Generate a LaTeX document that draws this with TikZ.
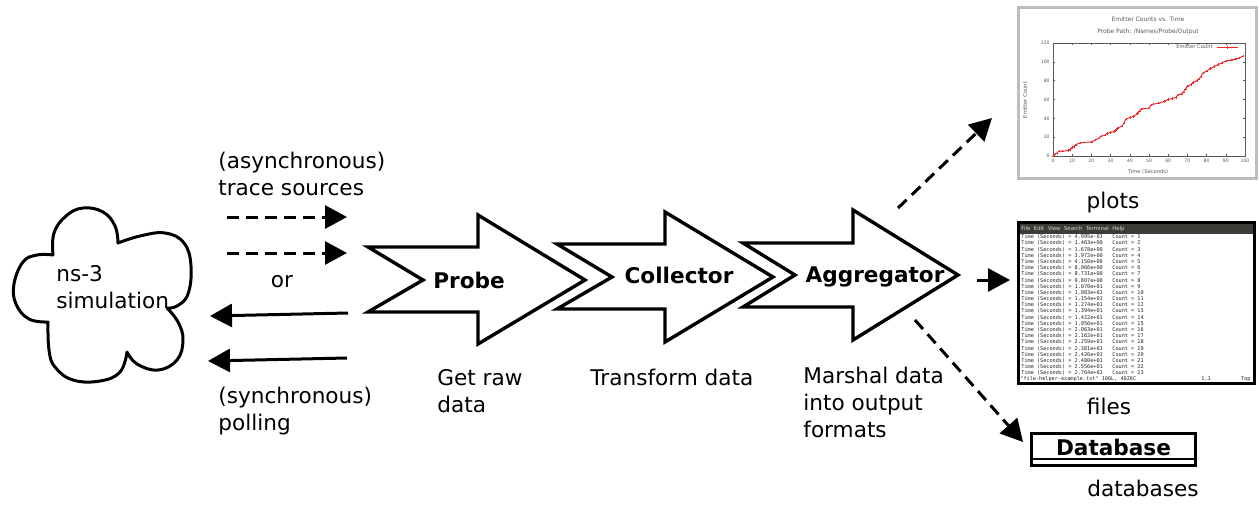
\documentclass[tikz,border=0pt]{standalone}
\usepackage{fontspec}
\setmainfont{DejaVu Sans}
\newfontfamily\termfont{DejaVu Sans Mono}
\usetikzlibrary{arrows.meta}
\definecolor{plotframe}{gray}{0.74}
\definecolor{plottext}{gray}{0.35}
\definecolor{plotred}{RGB}{240,40,40}
\definecolor{termbar}{RGB}{60,59,55}
\definecolor{termbartext}{RGB}{215,215,210}
\begin{document}
\begin{tikzpicture}[x=0.5pt,y=-0.5pt,
  blockarrow/.style={draw, line width=1.7pt, fill=white, line join=miter},
  lbl/.style={font=\fontsize{10.8}{13.5}\selectfont, inner sep=0pt, align=left},
  boldlbl/.style={font=\fontsize{10.8}{13.5}\selectfont\bfseries, inner sep=0pt},
  flow/.style={line width=1.5pt, -{Triangle[length=11pt,width=11.5pt]}},
  dflow/.style={flow, dash pattern=on 6pt off 3.5pt},
  tiny/.style={font=\fontsize{3}{3.5}\selectfont, text=plottext, inner sep=0pt},
  ticklbl/.style={font=\fontsize{2.3}{2.8}\selectfont, text=plottext, inner sep=0pt},
  term/.style={font=\termfont\fontsize{2.6}{3}\selectfont, inner sep=0pt, anchor=base west, text=black!85},
  dbbox/.style={draw, line width=1.6pt, minimum width=82pt, minimum height=16pt, inner sep=0pt,
                font=\fontsize{10.8}{13.5}\selectfont\bfseries, text depth=2.7pt}
]
\useasboundingbox (0,0) rectangle (1259,505);

% ---------- cloud ----------
\draw[line width=1.5pt, line join=round]
 plot[smooth, tension=0.7] coordinates {(53,255) (54,233) (66,216) (83,208) (103,212) (115,226) (118,243)}
 -- plot[smooth, tension=0.7] coordinates {(118,243) (140,236) (165,233) (184,243) (191,266) (188,294) (177,306) (167,308)}
 -- plot[smooth, tension=0.7] coordinates {(167,308) (178,322) (183,340) (177,360) (158,370) (137,364) (127,352)}
 -- plot[smooth, tension=0.7] coordinates {(127,352) (120,372) (100,381) (73,380) (55,367) (49,350) (48,322)}
 -- plot[smooth, tension=0.7] coordinates {(48,322) (29,319) (16,304) (14,284) (23,262) (37,255) (53,255)}
 -- cycle;
\node[lbl, anchor=base west] (sim) at (56,308) {ns-3\\simulation};

% ---------- left side arrows ----------
\node[lbl, anchor=base west] (async) at (218,195) {(asynchronous)\\trace sources};
\coordinate (a1s) at (227,217); \coordinate (a1e) at (347,217);
\coordinate (a2s) at (227,253); \coordinate (a2e) at (347,253);
\draw[dflow] (a1s) -- (a1e);
\draw[dflow] (a2s) -- (a2e);
\node[lbl, anchor=base] (or) at (282,287) {or};
\coordinate (p1s) at (348,313); \coordinate (p1e) at (210,316);
\coordinate (p2s) at (347,358); \coordinate (p2e) at (208,361);
\draw[flow] (p1s) -- (p1e);
\draw[flow] (p2s) -- (p2e);
\node[lbl, anchor=base west] (sync) at (218,430) {(synchronous)\\polling};

% ---------- block arrows ----------
\draw[blockarrow] (368,247) -- (478,247) -- (478,215) -- (585,280) -- (478,344) -- (478,312) -- (368,312) -- (423,280) -- cycle;
\draw[blockarrow] (557,244) -- (665,244) -- (665,212) -- (773,277) -- (665,342) -- (665,309) -- (557,309) -- (612,277) -- cycle;
\draw[blockarrow] (743,243) -- (853,243) -- (853,210) -- (958,275) -- (853,340) -- (853,307) -- (743,307) -- (795,275) -- cycle;
\node[boldlbl, anchor=base] (probe) at (469,288) {Probe};
\node[boldlbl, anchor=base] (collector) at (679,283) {Collector};
\node[boldlbl, anchor=base] (aggregator) at (875,282) {Aggregator};

\node[lbl, anchor=base west] (getraw) at (437,412) {Get raw\\data};
\node[lbl, anchor=base west] (transform) at (590,385) {Transform data};
\node[lbl, anchor=base west] (marshal) at (803,437) {Marshal data\\into output\\formats};

% ---------- output arrows ----------
\coordinate (o1s) at (898,208); \coordinate (o1e) at (992,118);
\coordinate (o2s) at (977,280); \coordinate (o2e) at (1010,280);
\coordinate (o3s) at (915,320); \coordinate (o3e) at (1023,442);
\draw[dflow] (o1s) -- (o1e);
\draw[dflow] (o2s) -- (o2e);
\draw[dflow] (o3s) -- (o3e);

% ---------- plot screenshot ----------
\draw[plotframe, line width=1.5pt, fill=white] (1018.5,7.5) rectangle (1256.5,178.5);
\node[tiny] (ptitle) at (1148,19) {Emitter Counts vs. Time};
\node[tiny] (psub) at (1148,32) {Probe Path: /Names/Probe/Output};
\draw[plottext, line width=0.3pt] (1053,43) rectangle (1245,156);
\foreach \v [count=\k] in {0,20,40,60,80,100,120} {
  \draw[plottext, line width=0.3pt] (1053,{156-\v*0.942}) -- ++(2,0);
  \draw[plottext, line width=0.3pt] (1245,{156-\v*0.942}) -- ++(-2,0);
  \node[ticklbl, anchor=east] (yt\k) at (1050,{156-\v*0.942}) {\v};
}
\foreach \v [count=\k] in {0,10,20,30,40,50,60,70,80,90,100} {
  \draw[plottext, line width=0.3pt] ({1053+\v*1.92},156) -- ++(0,-2);
  \draw[plottext, line width=0.3pt] ({1053+\v*1.92},43) -- ++(0,2);
  \node[ticklbl, anchor=north] (xt\k) at ({1053+\v*1.92},159) {\v};
}
\node[tiny, font=\fontsize{2.6}{3}\selectfont] (xlab) at (1148,172) {Time (Seconds)};
\node[tiny, font=\fontsize{2.6}{3}\selectfont, rotate=90] (ylab) at (1025,100) {Emitter Count};
\node[tiny, font=\fontsize{2.6}{3}\selectfont, anchor=east] (leg) at (1213,47) {Emitter Count};
\draw[plotred, line width=0.4pt] (1217,47) -- (1238,47);
\draw[plotred, line width=0.3pt] (1227.5,45.5) -- (1227.5,48.5);
\begin{scope}[shift={(1053,156)}, x=0.96pt, y=0.471pt]
\draw[plotred, line width=0.45pt, mark=+, mark size=0.6pt, mark options={line width=0.25pt}]
  plot coordinates {(0,0) (0.5,1) (1,2) (2,3) (3,5) (5,5) (8,6) (9,7) (10,9) (11,10) (12,12) (14,14) (20,15) (22,17) (24,19) (25,21) (27,22) (28,24) (30,25) (32,26) (33,28) (34,30) (36,32) (37,35) (38,39) (40,41) (42,42) (44,45) (45,48) (46,50) (50,51) (51,54) (52,55) (55,56) (58,58) (60,60) (62,61) (64,62) (65,65) (67,66) (68,68) (69,71) (70,74) (72,76) (73,78) (75,80) (76,82) (77,84) (78,88) (80,90) (82,93) (84,95) (86,97) (88,99) (90,101) (93,102) (95,103) (97,104) (99,106)};
\end{scope}
\node[lbl, anchor=base] (plots) at (1113,208) {plots};

% ---------- terminal screenshot ----------
\fill[white] (1018.5,222.5) rectangle (1254.5,383.5);
\fill[termbar] (1018.5,222.5) rectangle (1254.5,234);
\node[font=\fontsize{2.7}{3}\selectfont, text=termbartext, inner sep=0pt, anchor=west] (menu) at (1021,229) {File\ \ Edit\ \ View\ \ Search\ \ Terminal\ \ Help};
\foreach \t [count=\i] in {4.995e-01,1.463e+00,1.678e+00,3.972e+00,4.150e+00,8.066e+00,8.731e+00,9.807e+00,1.070e+01,1.083e+01,1.154e+01,1.274e+01,1.394e+01,1.422e+01,1.956e+01,2.063e+01,2.162e+01,2.259e+01,2.381e+01,2.426e+01,2.480e+01,2.556e+01,2.764e+01} {
  \node[term] (tt\i) at (1021,{238.8+(\i-1)*6.18}) {Time (Seconds) = \t};
  \node[term] (tc\i) at (1112,{238.8+(\i-1)*6.18}) {Count = \i};
}
\node[term] (status) at (1020,380.8) {"file-helper-example.txt" 106L, 4026C};
\node[term] (pos) at (1201,380.8) {1,1};
\node[term, anchor=base east] (top) at (1251,380.8) {Top};
\draw[line width=1.5pt] (1018.5,222.5) rectangle (1254.5,383.5);
\node[lbl, anchor=base] (files) at (1109,414) {files};

% ---------- database ----------
\node[dbbox] (db) at (1113.5,449.5) {Database};
\draw[line width=1.1pt] (db.west |- 0,459) -- (db.east |- 0,459);
\node[lbl, anchor=base] (databases) at (1143,496) {databases};
\end{tikzpicture}
\end{document}
